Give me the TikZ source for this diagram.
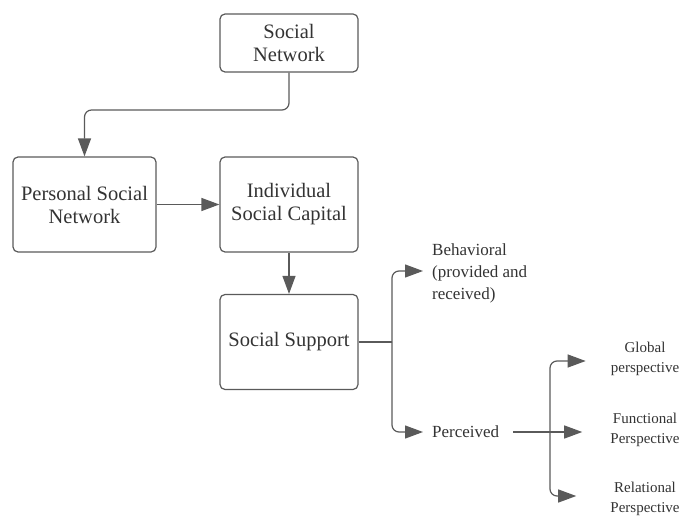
\documentclass[tikz,border=0pt]{standalone}
\usepackage{fontspec}
\setmainfont{Liberation Serif}
\usetikzlibrary{arrows.meta}
\definecolor{linegray}{HTML}{5A5A5A}
\definecolor{textgray}{HTML}{333333}
\tikzset{
  box/.style={draw=linegray, line width=1.2pt, rounded corners=5pt, align=center,
    text=textgray, font=\fontsize{20.5}{23}\selectfont, inner sep=0pt},
  lab/.style={text=textgray, font=\fontsize{17}{22}\selectfont, align=left, inner sep=4pt},
  small/.style={text=textgray, font=\fontsize{15}{19.5}\selectfont, align=center, inner sep=4pt},
  arr/.style={draw=linegray, line width=1.2pt, -{Triangle[length=18pt,width=13pt]}},
  link/.style={draw=linegray, line width=1.2pt},
}
\begin{document}
\begin{tikzpicture}[x=1pt,y=-1pt]
    \useasboundingbox (0,0) rectangle (682,516);
    % boxes
    \node[box, minimum width=138pt, minimum height=58pt] (sn) at (289,43) {Social\\Network};
    \node[box, minimum width=143pt, minimum height=95pt] (psn) at (84.5,204.5) {Personal Social\\Network};
    \node[box, minimum width=138pt, minimum height=95pt] (isc) at (289,204.5) {Individual\\Social Capital};
    \node[box, minimum width=138pt, minimum height=95pt] (ss) at (289,342) {Social Support};
    % kinds of support
    \node[lab, anchor=west] (beh) at (428,273) {Behavioral\\(provided and\\received)};
    \node[lab, anchor=west] (per) at (428,432) {Perceived};
    % perspectives
    \node[small] (glob) at (645,359) {Global\\perspective};
    \node[small] (func) at (645,430) {Functional\\Perspective};
    \node[small] (rel) at (645,499) {Relational\\Perspective};
    \coordinate (k1) at (289,110);
    \coordinate (j1) at (392,342);
    \coordinate (j2) at (550,432);
    \draw [arr, rounded corners=7pt] (sn) -- (k1) -| (psn);
    \draw [arr] (psn) -- (isc);
    \draw [arr] (isc) -- (ss);
    \draw [link] (ss) -- (j1);
    \draw [arr, rounded corners=7pt, shorten >=5pt] (j1) |- (beh.west |- 0,271);
    \draw [arr, rounded corners=7pt, shorten >=5pt] (j1) |- (per.west);
    \draw [arr, shorten <=10pt, shorten >=24pt] (per.east) -- (func.west |- per.east);
    \draw [arr, rounded corners=7pt, shorten >=21pt] (j2) |- (glob.west |- 0,361);
    \draw [arr, rounded corners=7pt, shorten >=30pt] (j2) |- (rel.west |- 0,496);
\end{tikzpicture}
\end{document}
